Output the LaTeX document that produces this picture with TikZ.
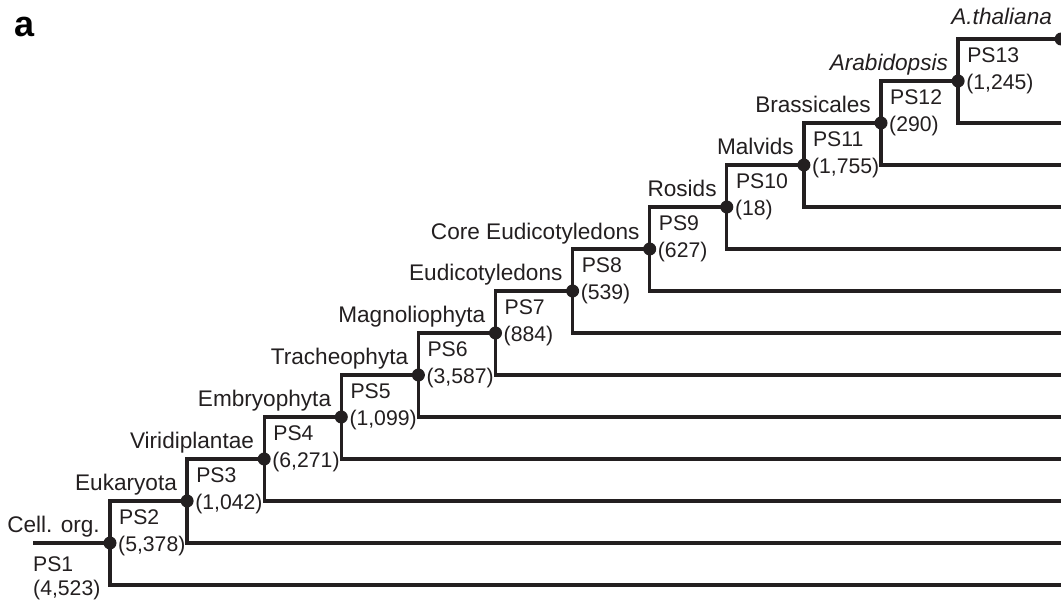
\documentclass[tikz,border=0pt]{standalone}
\usepackage{fontspec}
\setmainfont{Liberation Sans}
\usetikzlibrary{positioning}
\definecolor{primaryColor}{RGB}{35,31,32}
\tikzstyle{branch} = [line width=3.3pt, draw=primaryColor]
\tikzstyle{dot} = [circle, fill=primaryColor, inner sep=0pt, minimum size=13pt, on grid]
\tikzstyle{clade} = [anchor=base east, inner sep=0pt, xshift=-10pt, yshift=10pt, text=primaryColor, font=\fontsize{22.6}{26}\selectfont]
\tikzstyle{psname} = [anchor=base west, inner sep=0pt, xshift=9pt, yshift=18pt, text=primaryColor]
\tikzstyle{count} = [anchor=base west, inner sep=0pt, xshift=8pt, yshift=-9pt, text=primaryColor]

\begin{document}
\begin{tikzpicture}[x=1pt, y=1pt, font=\fontsize{21.2}{25}\selectfont]
    \useasboundingbox (0,0) rectangle (1061,602);
    \node (panel) [anchor=base west, inner sep=0pt, font=\fontsize{36}{40}\selectfont\bfseries] at (14,565) {a};

    % Branch points
    \node (n1) [dot] at (110,59) {};
    \node (n2) [dot, above right=42pt and 77.1pt of n1] {};
    \node (n3) [dot, above right=42pt and 77.1pt of n2] {};
    \node (n4) [dot, above right=42pt and 77.1pt of n3] {};
    \node (n5) [dot, above right=42pt and 77.1pt of n4] {};
    \node (n6) [dot, above right=42pt and 77.1pt of n5] {};
    \node (n7) [dot, above right=42pt and 77.1pt of n6] {};
    \node (n8) [dot, above right=42pt and 77.1pt of n7] {};
    \node (n9) [dot, above right=42pt and 77.1pt of n8] {};
    \node (n10) [dot, above right=42pt and 77.1pt of n9] {};
    \node (n11) [dot, above right=42pt and 77.1pt of n10] {};
    \node (n12) [dot, above right=42pt and 77.1pt of n11] {};
    \node (tip) [dot, above right=42pt and 103pt of n12] {};
    \coordinate (root) at (33,59);
    \coordinate (edge) at (1061,17);

    % Tree
    \draw [branch] (root) -- (n1.center);
    \draw [branch] (edge) -| (n1.center) |- (n2.center);
    \draw [branch] (edge |- n1) -| (n2.center) |- (n3.center);
    \draw [branch] (edge |- n2) -| (n3.center) |- (n4.center);
    \draw [branch] (edge |- n3) -| (n4.center) |- (n5.center);
    \draw [branch] (edge |- n4) -| (n5.center) |- (n6.center);
    \draw [branch] (edge |- n5) -| (n6.center) |- (n7.center);
    \draw [branch] (edge |- n6) -| (n7.center) |- (n8.center);
    \draw [branch] (edge |- n7) -| (n8.center) |- (n9.center);
    \draw [branch] (edge |- n8) -| (n9.center) |- (n10.center);
    \draw [branch] (edge |- n9) -| (n10.center) |- (n11.center);
    \draw [branch] (edge |- n10) -| (n11.center) |- (n12.center);
    \draw [branch] (edge |- n11) -| (n12.center) |- (tip.center);

    % Clade names
    \node (c1) [clade] at (n1) {Cell. org.};
    \node (c2) [clade] at (n2) {Eukaryota};
    \node (c3) [clade] at (n3) {Viridiplantae};
    \node (c4) [clade] at (n4) {Embryophyta};
    \node (c5) [clade] at (n5) {Tracheophyta};
    \node (c6) [clade] at (n6) {Magnoliophyta};
    \node (c7) [clade] at (n7) {Eudicotyledons};
    \node (c8) [clade, yshift=-1pt] at (n8) {Core Eudicotyledons};
    \node (c9) [clade] at (n9) {Rosids};
    \node (c10) [clade] at (n10) {Malvids};
    \node (c11) [clade] at (n11) {Brassicales};
    \node (c12) [clade] at (n12) {\textit{Arabidopsis}};
    \node (c13) [clade, xshift=1pt, yshift=4pt] at (tip) {\textit{A.thaliana}};

    % Phylostrata and gene counts
    \node (p1) [anchor=base west, inner sep=0pt, text=primaryColor] at (33,30) {PS1};
    \node (k1) [anchor=base west, inner sep=0pt, text=primaryColor] at (33,6) {(4,523)};
    \node (p2) [psname] at (n1) {PS2};   \node (k2) [count] at (n1) {(5,378)};
    \node (p3) [psname] at (n2) {PS3};   \node (k3) [count] at (n2) {(1,042)};
    \node (p4) [psname] at (n3) {PS4};   \node (k4) [count] at (n3) {(6,271)};
    \node (p5) [psname] at (n4) {PS5};   \node (k5) [count] at (n4) {(1,099)};
    \node (p6) [psname] at (n5) {PS6};   \node (k6) [count] at (n5) {(3,587)};
    \node (p7) [psname] at (n6) {PS7};   \node (k7) [count] at (n6) {(884)};
    \node (p8) [psname] at (n7) {PS8};   \node (k8) [count] at (n7) {(539)};
    \node (p9) [psname] at (n8) {PS9};   \node (k9) [count] at (n8) {(627)};
    \node (p10) [psname] at (n9) {PS10}; \node (k10) [count] at (n9) {(18)};
    \node (p11) [psname] at (n10) {PS11}; \node (k11) [count] at (n10) {(1,755)};
    \node (p12) [psname] at (n11) {PS12}; \node (k12) [count] at (n11) {(290)};
    \node (p13) [psname] at (n12) {PS13}; \node (k13) [count] at (n12) {(1,245)};
\end{tikzpicture}
\end{document}
